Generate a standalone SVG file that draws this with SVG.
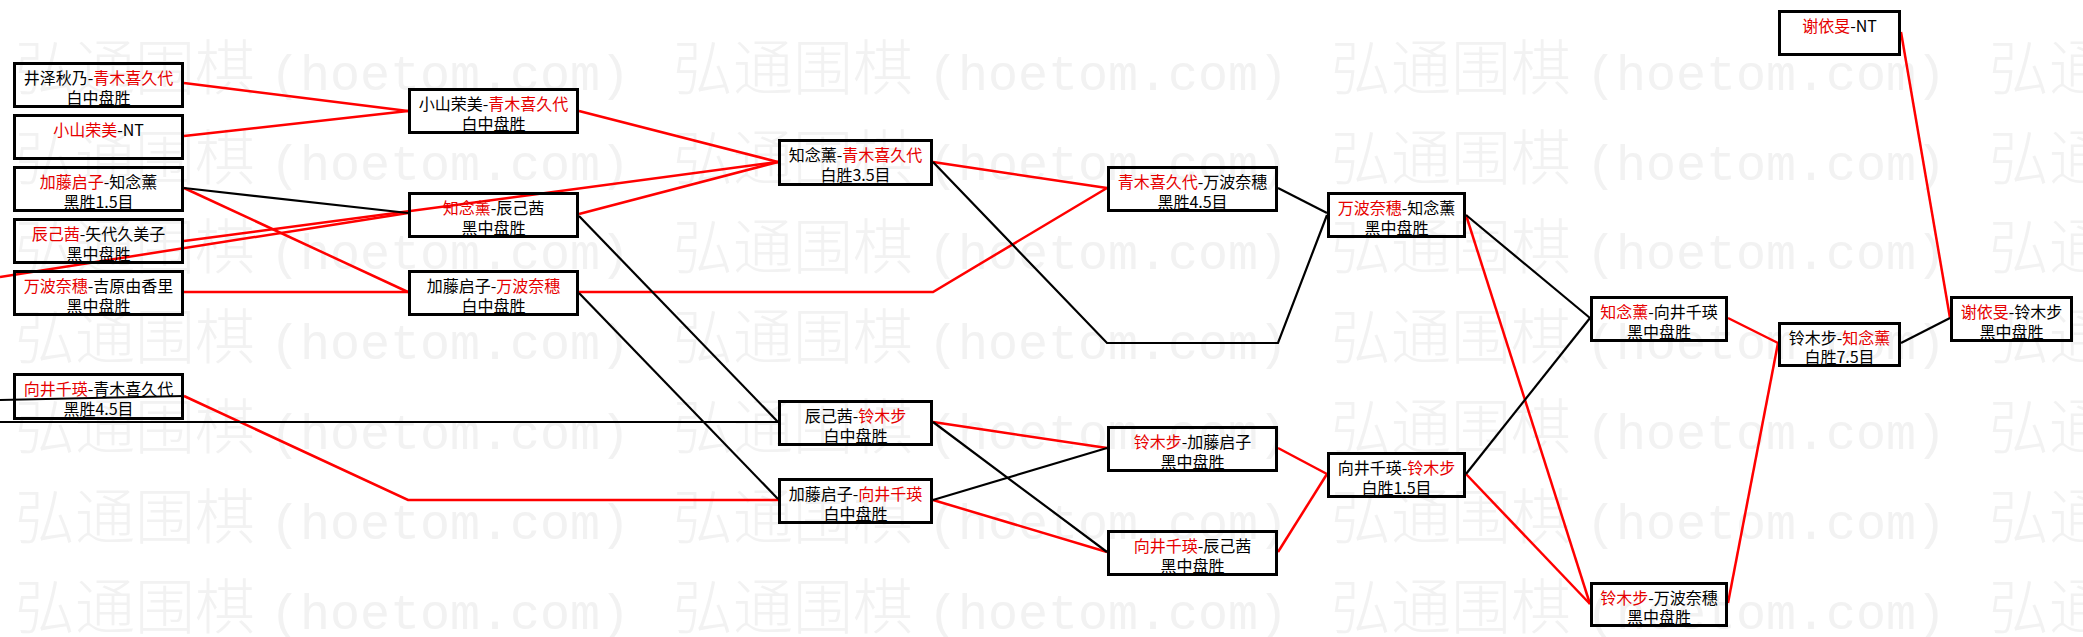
<svg xmlns="http://www.w3.org/2000/svg" width="2083" height="637" viewBox="0 0 2083 637">
<style>
.bg{fill:#fff}
.wm{fill:#f2f2f2}
.wmc{font-family:"Noto Sans CJK SC",sans-serif;font-size:60px;font-weight:300}
.wml{font-family:"Liberation Mono",monospace;font-size:50px}
.box{fill:none;stroke:#000;stroke-width:3}
.t{font-family:"Noto Sans CJK SC",sans-serif;font-size:16px;text-anchor:middle;fill:#000}
.r{fill:#e60000}
.lr{stroke:#f00;stroke-width:2.5;fill:none}
.lb{stroke:#000;stroke-width:2.2;fill:none}
</style>
<rect class="bg" x="0" y="0" width="2083" height="637"/>
<g id="watermark" class="wm">
<text y="90"><tspan class="wmc" x="15">弘通围棋</tspan><tspan class="wml" x="270">(hoetom.com)</tspan><tspan class="wmc" x="673">弘通围棋</tspan><tspan class="wml" x="928">(hoetom.com)</tspan><tspan class="wmc" x="1331">弘通围棋</tspan><tspan class="wml" x="1586">(hoetom.com)</tspan><tspan class="wmc" x="1989">弘通围棋</tspan></text>
<text y="180"><tspan class="wmc" x="15">弘通围棋</tspan><tspan class="wml" x="270">(hoetom.com)</tspan><tspan class="wmc" x="673">弘通围棋</tspan><tspan class="wml" x="928">(hoetom.com)</tspan><tspan class="wmc" x="1331">弘通围棋</tspan><tspan class="wml" x="1586">(hoetom.com)</tspan><tspan class="wmc" x="1989">弘通围棋</tspan></text>
<text y="269"><tspan class="wmc" x="15">弘通围棋</tspan><tspan class="wml" x="270">(hoetom.com)</tspan><tspan class="wmc" x="673">弘通围棋</tspan><tspan class="wml" x="928">(hoetom.com)</tspan><tspan class="wmc" x="1331">弘通围棋</tspan><tspan class="wml" x="1586">(hoetom.com)</tspan><tspan class="wmc" x="1989">弘通围棋</tspan></text>
<text y="359"><tspan class="wmc" x="15">弘通围棋</tspan><tspan class="wml" x="270">(hoetom.com)</tspan><tspan class="wmc" x="673">弘通围棋</tspan><tspan class="wml" x="928">(hoetom.com)</tspan><tspan class="wmc" x="1331">弘通围棋</tspan><tspan class="wml" x="1586">(hoetom.com)</tspan><tspan class="wmc" x="1989">弘通围棋</tspan></text>
<text y="449"><tspan class="wmc" x="15">弘通围棋</tspan><tspan class="wml" x="270">(hoetom.com)</tspan><tspan class="wmc" x="673">弘通围棋</tspan><tspan class="wml" x="928">(hoetom.com)</tspan><tspan class="wmc" x="1331">弘通围棋</tspan><tspan class="wml" x="1586">(hoetom.com)</tspan><tspan class="wmc" x="1989">弘通围棋</tspan></text>
<text y="539"><tspan class="wmc" x="15">弘通围棋</tspan><tspan class="wml" x="270">(hoetom.com)</tspan><tspan class="wmc" x="673">弘通围棋</tspan><tspan class="wml" x="928">(hoetom.com)</tspan><tspan class="wmc" x="1331">弘通围棋</tspan><tspan class="wml" x="1586">(hoetom.com)</tspan><tspan class="wmc" x="1989">弘通围棋</tspan></text>
<text y="629"><tspan class="wmc" x="15">弘通围棋</tspan><tspan class="wml" x="270">(hoetom.com)</tspan><tspan class="wmc" x="673">弘通围棋</tspan><tspan class="wml" x="928">(hoetom.com)</tspan><tspan class="wmc" x="1331">弘通围棋</tspan><tspan class="wml" x="1586">(hoetom.com)</tspan><tspan class="wmc" x="1989">弘通围棋</tspan></text>
</g>
<g id="connectors">
<polyline class="lr" points="184,83 408,111"/>
<polyline class="lr" points="184,136 408,111"/>
<polyline class="lr" points="184,188 408,292"/>
<polyline class="lr" points="184,241 778,162"/>
<polyline class="lr" points="0,277 408,213"/>
<polyline class="lr" points="184,292 408,292"/>
<polyline class="lr" points="579,111 778,162"/>
<polyline class="lr" points="579,214 778,162"/>
<polyline class="lr" points="579,292 933,292 1107,188"/>
<polyline class="lr" points="933,162 1107,188"/>
<polyline class="lr" points="184,396 408,500 778,500"/>
<polyline class="lr" points="933,422 1107,448"/>
<polyline class="lr" points="933,500 1107,552"/>
<polyline class="lr" points="1278,448 1327,474"/>
<polyline class="lr" points="1278,552 1327,474"/>
<polyline class="lr" points="1466,215 1590,604"/>
<polyline class="lr" points="1466,474 1590,604"/>
<polyline class="lr" points="1728,318 1778,343"/>
<polyline class="lr" points="1728,603 1778,343"/>
<polyline class="lr" points="1901,32 1950,318"/>
<polyline class="lb" points="184,188 408,213"/>
<polyline class="lb" points="579,216 778,422"/>
<polyline class="lb" points="579,293 778,499"/>
<polyline class="lb" points="0,422 778,422"/>
<polyline class="lb" points="0,400 184,396"/>
<polyline class="lb" points="933,162 1107,343 1278,343 1327,215"/>
<polyline class="lb" points="1278,188 1327,213"/>
<polyline class="lb" points="933,422 1107,552"/>
<polyline class="lb" points="933,500 1107,448"/>
<polyline class="lb" points="1466,215 1590,318"/>
<polyline class="lb" points="1466,474 1590,318"/>
<polyline class="lb" points="1901,343 1950,318"/>
</g>
<g id="n-r1-1"><rect class="box" x="14.5" y="63.5" width="168" height="43"/><text class="t" x="98.5" y="84">井泽秋乃-<tspan class="r">青木喜久代</tspan></text><text class="t" x="98.5" y="104">白中盘胜</text></g>
<g id="n-r1-2"><rect class="box" x="14.5" y="115.5" width="168" height="43"/><text class="t" x="98.5" y="136"><tspan class="r">小山荣美</tspan>-NT</text></g>
<g id="n-r1-3"><rect class="box" x="14.5" y="167.5" width="168" height="43"/><text class="t" x="98.5" y="188"><tspan class="r">加藤启子</tspan>-知念薰</text><text class="t" x="98.5" y="208">黑胜1.5目</text></g>
<g id="n-r1-4"><rect class="box" x="14.5" y="219.5" width="168" height="43"/><text class="t" x="98.5" y="240"><tspan class="r">辰己茜</tspan>-矢代久美子</text><text class="t" x="98.5" y="260">黑中盘胜</text></g>
<g id="n-r1-5"><rect class="box" x="14.5" y="271.5" width="168" height="43"/><text class="t" x="98.5" y="292"><tspan class="r">万波奈穗</tspan>-吉原由香里</text><text class="t" x="98.5" y="312">黑中盘胜</text></g>
<g id="n-r1-6"><rect class="box" x="14.5" y="374.5" width="168" height="44"/><text class="t" x="98.5" y="395"><tspan class="r">向井千瑛</tspan>-青木喜久代</text><text class="t" x="98.5" y="415">黑胜4.5目</text></g>
<g id="n-r2-1"><rect class="box" x="409.5" y="89.5" width="168" height="43"/><text class="t" x="493.5" y="110">小山荣美-<tspan class="r">青木喜久代</tspan></text><text class="t" x="493.5" y="130">白中盘胜</text></g>
<g id="n-r2-2"><rect class="box" x="409.5" y="193.5" width="168" height="43"/><text class="t" x="493.5" y="214"><tspan class="r">知念薰</tspan>-辰己茜</text><text class="t" x="493.5" y="234">黑中盘胜</text></g>
<g id="n-r2-3"><rect class="box" x="409.5" y="271.5" width="168" height="43"/><text class="t" x="493.5" y="292">加藤启子-<tspan class="r">万波奈穗</tspan></text><text class="t" x="493.5" y="312">白中盘胜</text></g>
<g id="n-r3-1"><rect class="box" x="779.5" y="140.5" width="152" height="44"/><text class="t" x="855.5" y="161">知念薰-<tspan class="r">青木喜久代</tspan></text><text class="t" x="855.5" y="181">白胜3.5目</text></g>
<g id="n-r3-2"><rect class="box" x="779.5" y="401.5" width="152" height="43"/><text class="t" x="855.5" y="422">辰己茜-<tspan class="r">铃木步</tspan></text><text class="t" x="855.5" y="442">白中盘胜</text></g>
<g id="n-r3-3"><rect class="box" x="779.5" y="479.5" width="152" height="43"/><text class="t" x="855.5" y="500">加藤启子-<tspan class="r">向井千瑛</tspan></text><text class="t" x="855.5" y="520">白中盘胜</text></g>
<g id="n-r4-1"><rect class="box" x="1108.5" y="167.5" width="168" height="43"/><text class="t" x="1192.5" y="188"><tspan class="r">青木喜久代</tspan>-万波奈穗</text><text class="t" x="1192.5" y="208">黑胜4.5目</text></g>
<g id="n-r4-2"><rect class="box" x="1108.5" y="427.5" width="168" height="43"/><text class="t" x="1192.5" y="448"><tspan class="r">铃木步</tspan>-加藤启子</text><text class="t" x="1192.5" y="468">黑中盘胜</text></g>
<g id="n-r4-3"><rect class="box" x="1108.5" y="531.5" width="168" height="43"/><text class="t" x="1192.5" y="552"><tspan class="r">向井千瑛</tspan>-辰己茜</text><text class="t" x="1192.5" y="572">黑中盘胜</text></g>
<g id="n-r5-1"><rect class="box" x="1328.5" y="193.5" width="136" height="43"/><text class="t" x="1396.5" y="214"><tspan class="r">万波奈穗</tspan>-知念薰</text><text class="t" x="1396.5" y="234">黑中盘胜</text></g>
<g id="n-r5-2"><rect class="box" x="1328.5" y="453.5" width="136" height="43"/><text class="t" x="1396.5" y="474">向井千瑛-<tspan class="r">铃木步</tspan></text><text class="t" x="1396.5" y="494">白胜1.5目</text></g>
<g id="n-r6-1"><rect class="box" x="1591.5" y="297.5" width="135" height="43"/><text class="t" x="1659" y="318"><tspan class="r">知念薰</tspan>-向井千瑛</text><text class="t" x="1659" y="338">黑中盘胜</text></g>
<g id="n-r6-2"><rect class="box" x="1591.5" y="583.5" width="135" height="42"/><text class="t" x="1659" y="604"><tspan class="r">铃木步</tspan>-万波奈穗</text><text class="t" x="1659" y="623">黑中盘胜</text></g>
<g id="n-r7-1"><rect class="box" x="1779.5" y="11.5" width="120" height="43"/><text class="t" x="1839.5" y="32"><tspan class="r">谢依旻</tspan>-NT</text></g>
<g id="n-r7-2"><rect class="box" x="1779.5" y="323.5" width="120" height="42"/><text class="t" x="1839.5" y="344">铃木步-<tspan class="r">知念薰</tspan></text><text class="t" x="1839.5" y="363">白胜7.5目</text></g>
<g id="n-r8-1"><rect class="box" x="1951.5" y="297.5" width="120" height="43"/><text class="t" x="2011.5" y="318"><tspan class="r">谢依旻</tspan>-铃木步</text><text class="t" x="2011.5" y="338">黑中盘胜</text></g>
</svg>
